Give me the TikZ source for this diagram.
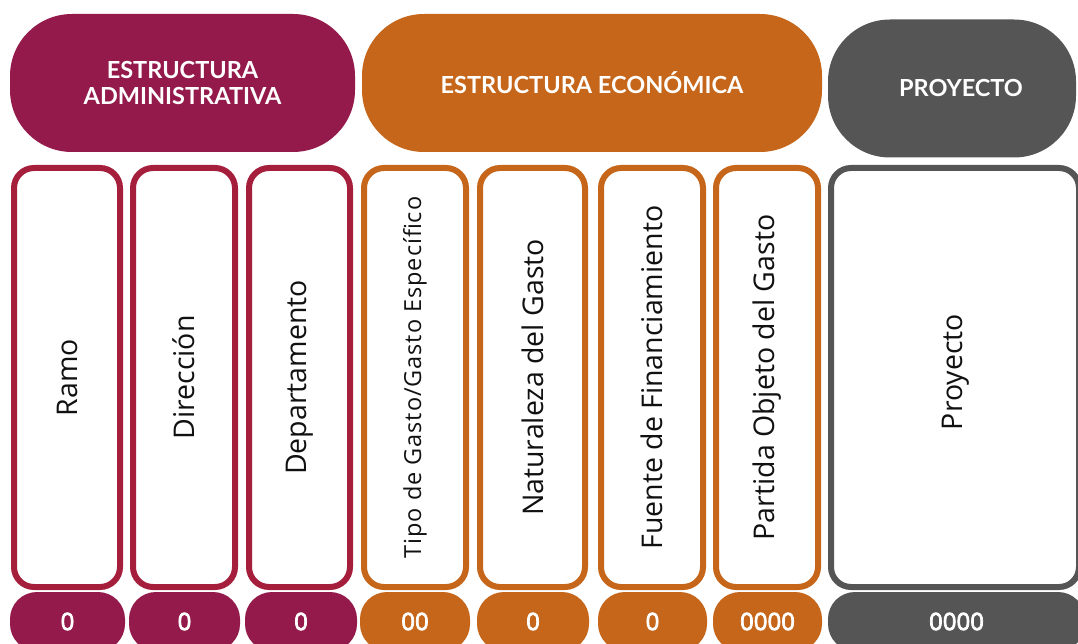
\documentclass[tikz,border=0pt]{standalone}
\usepackage{fontspec}
\setmainfont{Open Sans}
\newfontfamily\headfont{Lato}
\newfontfamily\spacedfont[LetterSpace=4]{Open Sans}
\newfontfamily\numfont[FakeBold=3]{Open Sans}
\definecolor{admhead}{HTML}{931A4B}
\definecolor{admline}{HTML}{A51F3D}
\definecolor{econ}{HTML}{C5661A}
\definecolor{proj}{HTML}{555555}
\definecolor{labeltext}{HTML}{111111}
\tikzset{
  headpill/.style={fill=#1, draw=none, rounded corners=62pt, minimum height=138pt, inner sep=0pt,
    text=white, font=\headfont\bfseries\fontsize{23.5}{25.5}\selectfont, align=center},
  headtext/.style={text=white, inner sep=0pt, font=\headfont\bfseries\fontsize{23.5}{25.5}\selectfont, align=center},
  colbox/.style={draw=#1, line width=6pt, fill=white, rounded corners=20pt, minimum height=419pt,
    inner sep=0pt, text=labeltext, font=\fontsize{28.5}{31}\selectfont},
  codepill/.style={fill=#1, draw=none, rounded corners=27pt, minimum height=59pt, inner sep=0pt,
    text=white, font=\numfont\fontsize{24}{26}\selectfont},
}
\begin{document}
\begin{tikzpicture}[x=1pt,y=-1pt]
\useasboundingbox (0,0) rectangle (1078,644);
\clip (0,0) rectangle (1078,644);
% headers
\node[headpill=admhead, minimum width=345pt] (hadm) at (182.5,83) {ESTRUCTURA\\ADMINISTRATIVA};
\node[headpill=econ, minimum width=460pt] (hecon) at (592,83) {ESTRUCTURA ECONÓMICA};
\node[headpill=proj, minimum width=248pt] (hproj) at (952,88.5) {};
\node[headtext] (hprojtxt) at (961,88) {PROYECTO};
% columns
\node[colbox=admline, minimum width=106pt] (ramo) at (67,377.5) {\rotatebox{90}{Ramo}};
\node[colbox=admline, minimum width=102pt] (dir) at (184,377.5) {\rotatebox{90}{Dirección}};
\node[colbox=admline, minimum width=101pt] (dep) at (299.5,377.5) {\rotatebox{90}{Departamento}};
\node[colbox=econ, minimum width=102pt] (tipo) at (415,377.5) {\rotatebox{90}{\spacedfont\fontsize{23.5}{26}\selectfont Tipo de Gasto/Gasto Específico}};
\node[colbox=econ, minimum width=105pt] (nat) at (532.5,377.5) {\rotatebox{90}{Naturaleza del Gasto}};
\node[colbox=econ, minimum width=102pt] (fuente) at (652,377.5) {\rotatebox{90}{Fuente de Financiamiento}};
\node[colbox=econ, minimum width=102pt] (partida) at (767,377.5) {\rotatebox{90}{Partida Objeto del Gasto}};
\node[colbox=proj, minimum width=248pt] (proy) at (955,377.5) {};
\node[text=labeltext, font=\fontsize{28.5}{31}\selectfont, inner sep=0pt] (proytxt) at (956,372) {\rotatebox{90}{Proyecto}};
% code pills
\node[codepill=admhead, minimum width=115pt] (cramo) at (67.5,621.5) {0};
\node[codepill=admhead, minimum width=111pt] (cdir) at (184.5,621.5) {0};
\node[codepill=admhead, minimum width=112pt] (cdep) at (301,621.5) {0};
\node[codepill=econ, minimum width=110pt] (ctipo) at (415,621.5) {00};
\node[codepill=econ, minimum width=112pt] (cnat) at (533,621.5) {0};
\node[codepill=econ, minimum width=109pt] (cfuente) at (652.5,621.5) {0};
\node[codepill=econ, minimum width=109pt] (cpartida) at (767.5,621.5) {0000};
\node[codepill=proj, minimum width=257pt] (cproy) at (956.5,621.5) {0000};
\end{tikzpicture}
\end{document}
